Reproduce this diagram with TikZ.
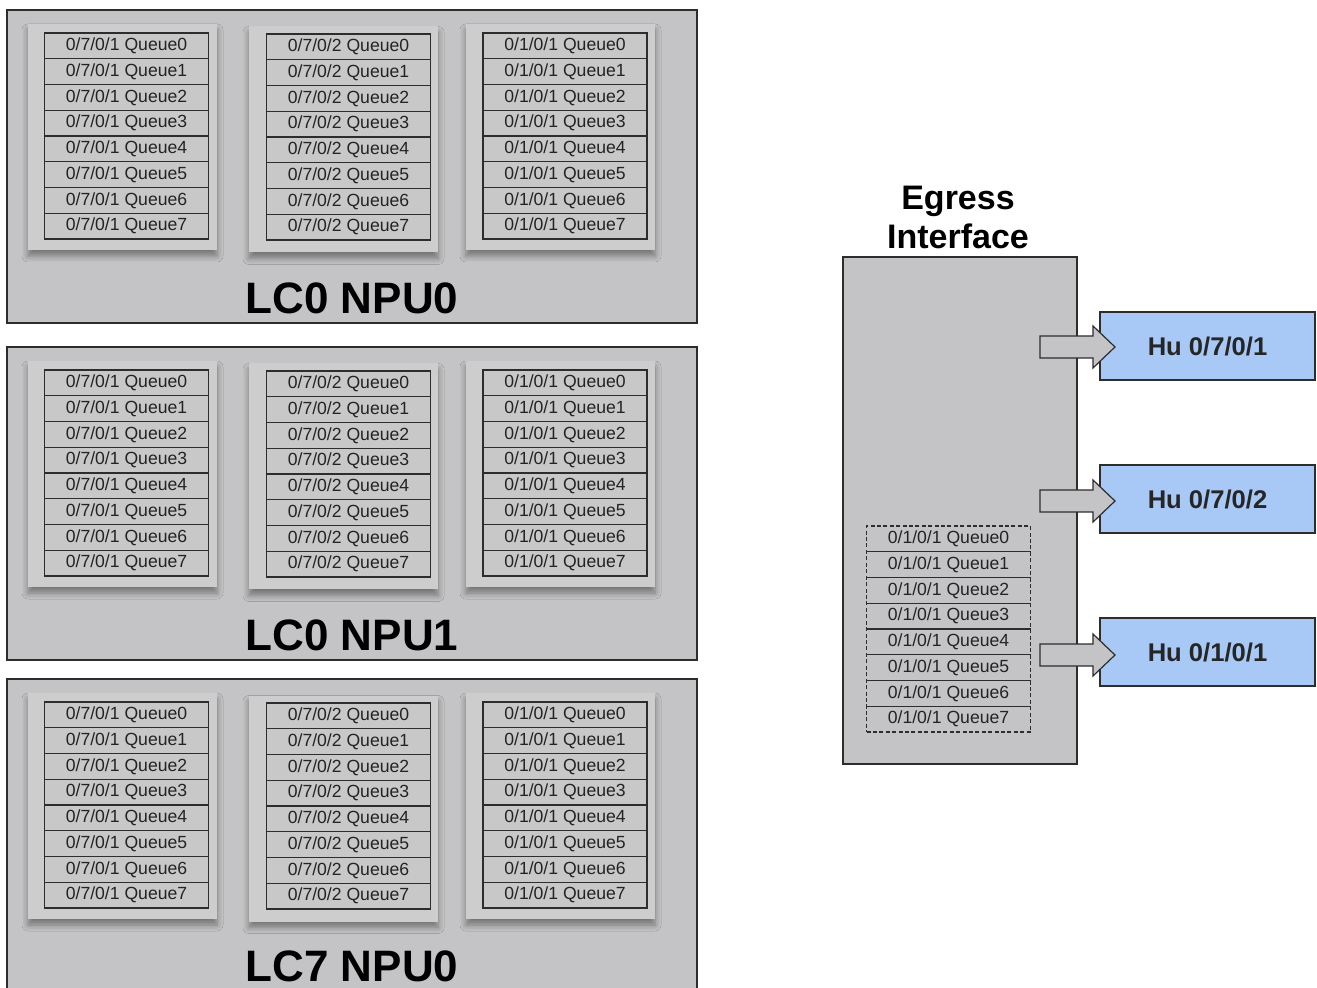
\documentclass[tikz,border=0pt]{standalone}
\usepackage{fontspec}
\setmainfont{Liberation Sans}
\usetikzlibrary{shadows.blur}
\definecolor{panelgray}{RGB}{196,196,198}
\definecolor{cardgray}{RGB}{205,205,206}
\definecolor{rowgray}{RGB}{200,200,201}
\definecolor{edgegray}{RGB}{45,45,45}
\definecolor{txtgray}{RGB}{35,35,35}
\definecolor{portblue}{RGB}{168,200,246}
\newcommand\portname[1]{\ifcase#1 0/7/0/1\or 0/7/0/2\or 0/1/0/1\fi}
\begin{document}
\begin{tikzpicture}[x=0.5pt,y=-0.5pt,
  panel/.style={draw=edgegray,line width=0.6pt,fill=panelgray},
  card/.style={fill=cardgray,minimum width=94.5pt,minimum height=113pt,inner sep=0pt,
    blur shadow={shadow xshift=0pt,shadow yshift=-3pt,shadow blur radius=3pt,shadow blur steps=6,shadow opacity=40}},
  qrow/.style={draw=edgegray,line width=0.6pt,fill=rowgray,minimum width=82pt,minimum height=12.875pt,
    inner sep=0pt,font=\fontsize{8.8}{10}\selectfont,text=txtgray},
  dqrow/.style={qrow,dashed,dash pattern=on 2pt off 1.2pt,fill=none},
  title/.style={font=\fontsize{22}{24}\selectfont\bfseries},
  egress/.style={draw=edgegray,line width=0.6pt,fill=panelgray,minimum width=117pt,minimum height=253.5pt,inner sep=0pt},
  port/.style={draw=edgegray,line width=0.6pt,fill=portblue,minimum width=107.5pt,minimum height=34pt,
    inner sep=0pt,font=\fontsize{12.8}{14}\selectfont\bfseries,text=black!85},
  blockarrow/.style={draw=edgegray,line width=0.6pt,fill=panelgray,line join=miter}
]
\path[use as bounding box,clip] (0,0) rectangle (1317,988);
\fill[white] (0,0) rectangle (1317,988);

% line-card NPU panels with three port queue stacks each
\draw[panel] (7,10) rectangle (697,323);
\draw[panel] (7,347) rectangle (697,660);
\draw[panel] (7,679) rectangle (697,1000);

\foreach \dy/\ttl/\pid/\ty in {0/LC0 NPU0/a/298,337/LC0 NPU1/b/635,669/LC7 NPU0/c/966}{
  \node[title] (\pid-title) at (352,\ty) {\ttl};
  \foreach \cx/\cy/\tx/\tt/\p/\cid in {122.5/137/126.5/33/0/p1,343.5/139.5/348.5/34/1/p2,560.5/137/565/33/2/p3}{
    \node[card] (\pid-\cid) at (\cx,\cy+\dy) {};
    \foreach \r in {0,...,7}{
      \node[qrow] (\pid-\cid-\r) at (\tx,{\tt+\dy+(\r+0.5)*25.75}) {\portname{\p} Queue\r};
    }
  }
}

% egress interface
\node[font=\fontsize{17}{19.5}\selectfont\bfseries,align=center] (egtitle) at (958,217) {Egress\\Interface};
\node[egress] (egress) at (960,510.5) {};
\foreach \r in {0,...,7}{
  \node[dqrow] (eq\r) at (948.5,{526+(\r+0.5)*25.75}) {0/1/0/1 Queue\r};
}

% output ports
\node[port] (hu1) at (1207.5,346) {Hu 0/7/0/1};
\node[port] (hu2) at (1207.5,499) {Hu 0/7/0/2};
\node[port] (hu3) at (1207.5,652) {Hu 0/1/0/1};

% block arrows from the egress box into each port
\foreach \n/\yc in {1/347,2/501,3/655}{
  \coordinate (tip\n) at (1115,\yc);
  \draw[blockarrow] (1040,\yc-11) -- (1093,\yc-11) -- (1093,\yc-21) -- (tip\n)
    -- (1093,\yc+21) -- (1093,\yc+11) -- (1040,\yc+11) -- cycle;
}
\end{tikzpicture}
\end{document}
